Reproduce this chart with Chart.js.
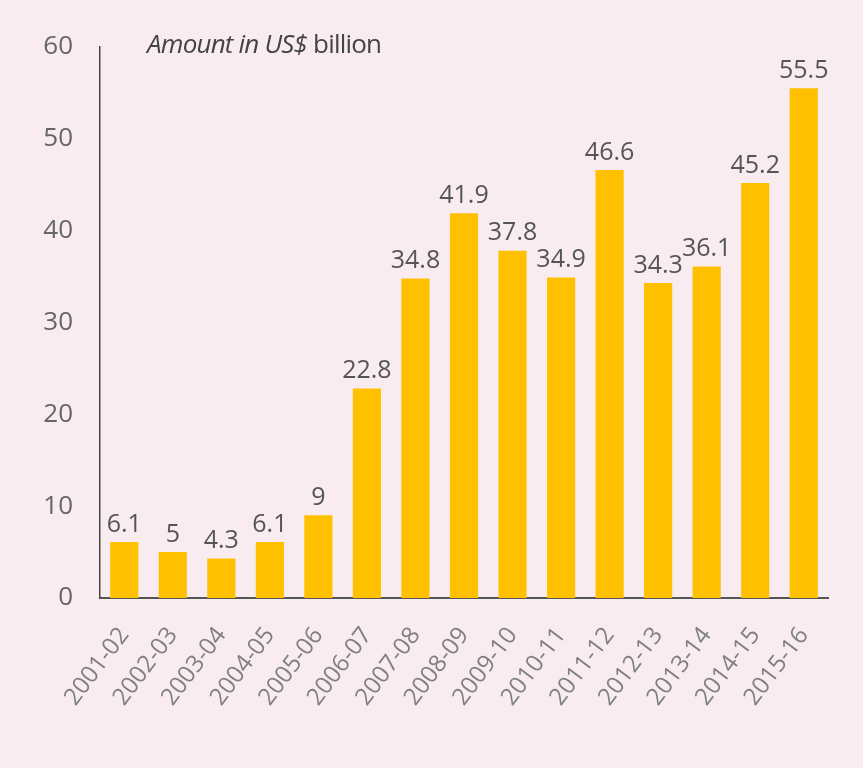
<!DOCTYPE html>
<html>
<head>
<meta charset="utf-8">
<script src="https://cdn.jsdelivr.net/npm/chart.js@4"></script>
<style>
  html, body { margin: 0; padding: 0; background: #f8ecf1; }
  #wrap { position: relative; width: 863px; height: 768px; background: #f8ecf1; }
  #title { position: absolute; left: 147px; top: 25px; font-family: "Open Sans", sans-serif; font-size: 26px; color: #444; letter-spacing: -0.8px; }
  #title i { font-style: italic; }
</style>
</head>
<body>
<div id="wrap">
  <canvas id="c" width="863" height="768"></canvas>
  <div id="title"><i>Amount in US$</i> billion</div>
</div>
<script>
const categories = ["2001-02","2002-03","2003-04","2004-05","2005-06","2006-07","2007-08","2008-09","2009-10","2010-11","2011-12","2012-13","2013-14","2014-15","2015-16"];
const amounts = [6.1, 5, 4.3, 6.1, 9, 22.8, 34.8, 41.9, 37.8, 34.9, 46.6, 34.3, 36.1, 45.2, 55.5];
const yTicks = [0, 10, 20, 30, 40, 50, 60];

const valueLabels = {
  id: 'valueLabels',
  afterDatasetsDraw(chart) {
    const ctx = chart.ctx;
    const meta = chart.getDatasetMeta(0);
    ctx.save();
    ctx.font = '25px "Open Sans", sans-serif';
    ctx.fillStyle = '#555';
    ctx.textAlign = 'center';
    ctx.textBaseline = 'bottom';
    meta.data.forEach((bar, i) => {
      ctx.fillText(String(amounts[i]), bar.x, bar.y - 5);
    });
    ctx.restore();
  }
};

new Chart(document.getElementById('c'), {
  type: 'bar',
  data: {
    labels: categories,
    datasets: [{
      data: amounts,
      backgroundColor: '#ffc000',
      borderWidth: 0,
      barPercentage: 0.58,
      categoryPercentage: 1.0
    }]
  },
  options: {
    responsive: false,
    animation: false,
    layout: { padding: { top: 47, right: 35, left: 0, bottom: 0 } },
    plugins: { legend: { display: false }, tooltip: { enabled: false } },
    scales: {
      x: {
        grid: { display: false },
        border: { display: true, color: '#555', width: 2 },
        ticks: {
          color: '#808080',
          font: { family: '"Open Sans", sans-serif', size: 24 },
          maxRotation: 53, minRotation: 53,
          padding: 16
        },
        afterFit(scale) { scale.height = 170; }
      },
      y: {
        min: 0, max: 60,
        grid: { display: false },
        border: { display: true, color: '#444', width: 1.5 },
        afterBuildTicks(scale) { scale.ticks = yTicks.map(v => ({ value: v })); },
        ticks: {
          color: '#666',
          font: { family: '"Open Sans", sans-serif', size: 26 },
          padding: 19
        },
        afterFit(scale) { scale.width = 100; }
      }
    }
  },
  plugins: [valueLabels]
});
</script>
</body>
</html>
